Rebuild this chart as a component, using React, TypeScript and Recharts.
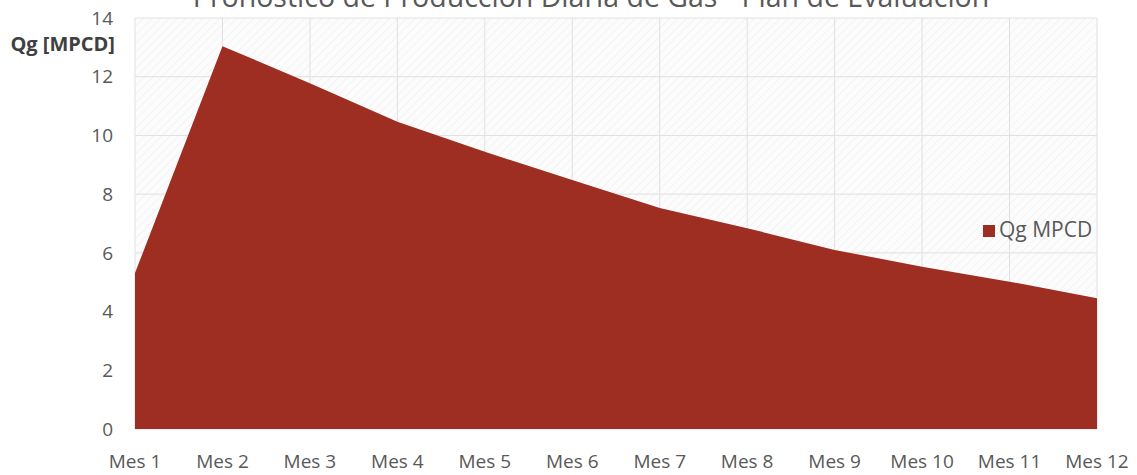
import React from 'react';
import { AreaChart, Area, XAxis, YAxis, CartesianGrid, Legend } from 'recharts';

const months = ['Mes 1', 'Mes 2', 'Mes 3', 'Mes 4', 'Mes 5', 'Mes 6', 'Mes 7', 'Mes 8', 'Mes 9', 'Mes 10', 'Mes 11', 'Mes 12'];
const qgValues = [5.31, 13.04, 11.78, 10.47, 9.44, 8.48, 7.53, 6.84, 6.1, 5.53, 5.02, 4.45];
const yTicks = [0, 2, 4, 6, 8, 10, 12, 14];
const seriesName = 'Qg MPCD';
const chartTitle = 'Pronóstico de Producción Diaria de Gas - Plan de Evaluación';
const yAxisTitle = 'Qg [MPCD]';

const data = months.map((m, i) => ({ mes: m, qg: qgValues[i] }));

const FONT = '"Open Sans", sans-serif';
const AREA_COLOR = '#9d2e21';

export default function App() {
  return (
    <div style={{ position: 'absolute', left: 0, top: 0, width: 1137, height: 475, background: '#ffffff' }}>
      <AreaChart
        width={1137}
        height={475}
        data={data}
        margin={{ top: 18, right: 40, left: 75, bottom: 16 }}
        style={{ fontFamily: FONT }}
      >
        <defs>
          <pattern id="hatch" width="6" height="6" patternUnits="userSpaceOnUse" patternTransform="rotate(45)">
            <rect width="6" height="6" fill="#fcfcfc" />
            <line x1="0" y1="0" x2="0" y2="6" stroke="#f1f1f1" strokeWidth="1.5" />
          </pattern>
        </defs>
        <CartesianGrid stroke="#e0e0e0" fill="url(#hatch)" vertical horizontal />
        <XAxis
          dataKey="mes"
          interval={0}
          axisLine={false}
          tickLine={false}
          tickMargin={20}
          height={30}
          tick={{ fill: '#595959', fontSize: 19, fontFamily: FONT }}
        />
        <YAxis
          domain={[0, 14]}
          ticks={yTicks}
          axisLine={false}
          tickLine={false}
          tickMargin={16}
          width={60}
          tick={{ fill: '#595959', fontSize: 19, fontFamily: FONT }}
        />
        <Legend
          layout="horizontal"
          verticalAlign="middle"
          align="center"
          iconType="square"
          iconSize={12}
          wrapperStyle={{ left: 983, top: 215, width: 'auto', fontFamily: FONT, fontSize: 21 }}
          formatter={(value: string) => <span style={{ color: '#595959' }}>{value}</span>}
        />
        <Area
          type="linear"
          dataKey="qg"
          name={seriesName}
          stroke={AREA_COLOR}
          strokeWidth={0}
          fill={AREA_COLOR}
          fillOpacity={1}
          isAnimationActive={false}
          dot={false}
          activeDot={false}
        />
        <text x={591} y={7} textAnchor="middle" fill="#595959" fontSize={28.5} fontFamily={FONT}>
          {chartTitle}
        </text>
        <text x={115} y={51} textAnchor="end" fill="#404040" fontSize={20} fontWeight="bold" fontFamily={FONT}>
          {yAxisTitle}
        </text>
      </AreaChart>
    </div>
  );
}
